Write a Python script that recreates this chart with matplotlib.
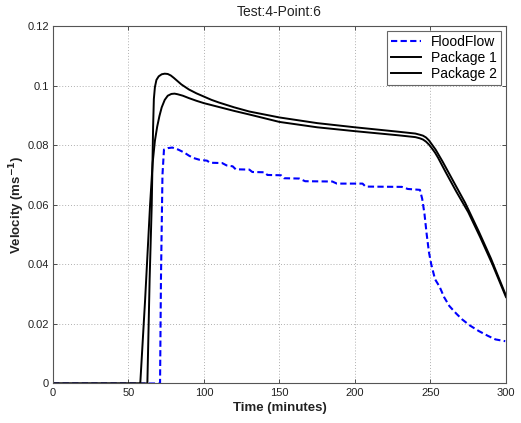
import matplotlib
matplotlib.use("Agg")
import matplotlib.pyplot as plt

plt.rcParams['font.family'] = ['Liberation Sans', 'DejaVu Sans']

# FloodFlow measurements (minutes, m/s)
flood_t = [0, 70.9, 71.5, 72.5, 73.5, 76, 79, 83, 87, 90, 93, 97, 102, 104, 112, 115,
           119, 121, 130, 132, 140, 142, 151, 153, 163, 167, 185, 188, 205, 207, 231,
           235, 243, 244.5, 246, 247.5, 249, 250.5, 253, 256, 259, 262.5, 267, 271,
           276, 282, 288, 293, 299.5]
flood_v = [0, 0, 0.035, 0.07, 0.0785, 0.079, 0.0792, 0.0785, 0.0775, 0.0765, 0.0757,
           0.0751, 0.0748, 0.0741, 0.074, 0.0732, 0.0729, 0.0719, 0.0718, 0.071,
           0.0709, 0.07, 0.0699, 0.0689, 0.0688, 0.0679, 0.0678, 0.0671, 0.0671,
           0.0661, 0.066, 0.0653, 0.065, 0.062, 0.057, 0.05, 0.044, 0.04, 0.035,
           0.0325, 0.029, 0.026, 0.0235, 0.0215, 0.0195, 0.0176, 0.016, 0.0148, 0.0142]

# Package 1 model output
pkg1_t = [0, 62.5, 64, 65.4, 66.3, 66.8, 67.5, 68.5, 70, 72, 74, 76, 78, 80, 82.5, 85,
          90, 95, 100, 105, 110, 120, 130, 150, 175, 200, 229, 240, 243, 245, 247,
          249, 251, 253.4, 258, 265, 273, 282, 290, 300]
pkg1_v = [0, 0, 0.035, 0.06, 0.086, 0.0955, 0.0995, 0.1019, 0.1031, 0.1038, 0.104,
          0.1039, 0.1034, 0.1026, 0.1015, 0.1004, 0.0987, 0.0974, 0.0963, 0.0952,
          0.0943, 0.0927, 0.0913, 0.0893, 0.0874, 0.086, 0.0845, 0.0839, 0.0835,
          0.0832, 0.0826, 0.0816, 0.0802, 0.0785, 0.0745, 0.068, 0.0606, 0.051,
          0.042, 0.0295]

# Package 2 model output
pkg2_t = [0, 57.8, 61, 64.3, 66, 67.5, 69, 70.5, 72, 74, 76, 78.4, 80.5, 82.5, 86, 90,
          95, 100, 110, 120, 130, 150, 175, 200, 229, 240, 243, 245, 247, 249, 251,
          253, 255, 260, 267, 275, 283, 291, 300]
pkg2_v = [0, 0, 0.028, 0.06, 0.074, 0.0815, 0.0862, 0.0898, 0.0927, 0.0952, 0.0966,
          0.0972, 0.0973, 0.0971, 0.0966, 0.0958, 0.0949, 0.0941, 0.0928, 0.0915,
          0.0903, 0.0878, 0.086, 0.0847, 0.0833, 0.0827, 0.0823, 0.0819, 0.0812,
          0.0802, 0.0789, 0.0775, 0.0758, 0.071, 0.0645, 0.0575, 0.049, 0.04, 0.029]

x_ticks = [0, 50, 100, 150, 200, 250, 300]
y_ticks = [0, 0.02, 0.04, 0.06, 0.08, 0.1, 0.12]
y_tick_labels = ['0', '0.02', '0.04', '0.06', '0.08', '0.1', '0.12']

fig = plt.figure(figsize=(5.21, 4.23), dpi=100)
ax = fig.add_axes([0.1017, 0.0934, 0.8695, 0.8451])

ax.plot(flood_t, flood_v, color='#0000ff', lw=1.5, linestyle=(0, (3, 1.6)),
        label='FloodFlow')
ax.plot(pkg1_t, pkg1_v, color='black', lw=1.4, label='Package 1')
ax.plot(pkg2_t, pkg2_v, color='black', lw=1.4, label='Package 2')

ax.set_xlim(0, 300)
ax.set_ylim(0, 0.12)
ax.set_xticks(x_ticks)
ax.set_xticklabels([str(v) for v in x_ticks])
ax.set_yticks(y_ticks)
ax.set_yticklabels(y_tick_labels)

ax.grid(True, linestyle=(0, (1, 2)), color='#b0b0b0', lw=0.7)
ax.tick_params(direction='in', top=True, right=True, labelsize=8, length=3,
               width=0.6, colors='#333333', labelcolor='#222222', pad=3)
for s in ax.spines.values():
    s.set_color('#555555')
    s.set_linewidth(0.8)

ax.set_title('Test:4-Point:6', fontsize=10, pad=7, color='#222222')
ax.set_xlabel('Time (minutes)', fontsize=9.5, fontweight='bold', color='#222222',
              labelpad=3)
ax.set_ylabel(r'Velocity (ms$^{\mathbf{-1}}$)', fontsize=9.5, fontweight='bold',
              color='#222222', labelpad=0)

leg = ax.legend(loc='upper right', fontsize=10, frameon=True, fancybox=False,
                edgecolor='#666666', framealpha=1, borderaxespad=0.35,
                handlelength=2.2, handletextpad=0.7, borderpad=0.3,
                labelspacing=0.15)
leg.get_frame().set_linewidth(0.8)

fig.savefig('out.png', dpi=100, facecolor='white')
